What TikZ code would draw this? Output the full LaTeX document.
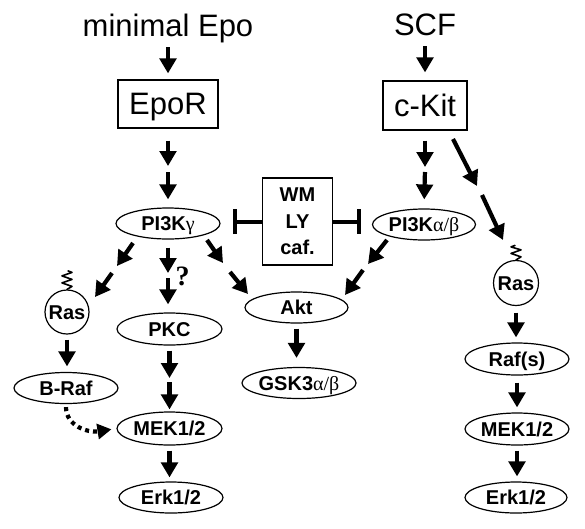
\documentclass[tikz,border=0pt]{standalone}
\usepackage{fontspec}
\setmainfont{Liberation Sans}
\newfontfamily\grk{Liberation Serif}
\usetikzlibrary{arrows.meta,shapes.geometric}
\begin{document}
\begin{tikzpicture}[x=1pt,y=-1pt,
  arr/.style={line width=4.2pt,-{Triangle[width=16.5pt,length=15pt]}},
  inhib/.style={line width=4pt,-{Bar[width=25pt]}},
  dotarr/.style={line width=4.2pt,dash pattern=on 4pt off 4pt,-{Triangle[width=15pt,length=14pt]}},
  big/.style={font=\fontsize{31}{34}\selectfont,inner sep=0pt},
  lbl/.style={font=\bfseries\fontsize{20}{22}\selectfont},
  oval/.style={ellipse,draw,line width=1.2pt,inner sep=0pt,minimum width=104pt,minimum height=31pt,text height=14pt,text depth=0pt,lbl},
  rbox/.style={rectangle,draw,line width=1.2pt,inner sep=0pt,text depth=0pt},
  rascirc/.style={circle,draw,line width=1.2pt,inner sep=0pt,minimum size=44pt,text height=14pt,text depth=0pt,lbl},
  spring/.style={line width=1.6pt,line join=round,line cap=round}
]
\useasboundingbox (0,0) rectangle (585,528);

% titles and receptors
\node[big,anchor=base] (tepo) at (168,36.5) {minimal Epo};
\node[big,anchor=base] (tscf) at (425,35.5) {SCF};
\node[rbox,big,minimum width=100pt,minimum height=48pt] (epor) at (168,104) {EpoR};
\node[rbox,big,minimum width=84pt,minimum height=49pt] (ckit) at (425,105.5) {c-Kit};

% signalling nodes
\node[oval] (pig) at (168,223.5) {PI3K{\mdseries\grk γ}};
\node[oval,minimum width=103pt] (piab) at (424,224.5) {PI3K{\mdseries\grk α/β}};
\node[rbox,lbl,minimum width=70pt,minimum height=87pt,align=center,font=\bfseries\fontsize{20}{26.5}\selectfont] (inh) at (297.5,221.5) {WM\\LY\\caf.};
\node[oval,minimum width=103pt] (akt) at (296.5,307.5) {Akt};
\node[oval,minimum width=105pt,minimum height=32pt] (pkc) at (169.5,329) {PKC};
\node[oval,minimum width=114pt] (gsk) at (299,383) {GSK3{\mdseries\grk α/β}};
\node[rascirc] (rasL) at (67,312) {Ras};
\node[oval] (braf) at (66,388) {B-Raf};
\node[oval,minimum width=105pt,minimum height=33pt] (mekL) at (169.5,428.5) {MEK1/2};
\node[oval] (erkL) at (171,497.5) {Erk1/2};
\node[rascirc,minimum size=45pt] (rasR) at (516,283) {Ras};
\node[oval,minimum height=32pt] (raf) at (517,359) {Raf(s)};
\node[oval,minimum height=32pt] (mekR) at (517,429) {MEK1/2};
\node[oval,minimum width=102pt] (erkR) at (516,497.5) {Erk1/2};

% lipid anchors (springs) on Ras
\draw[spring] (rasL.north) -- ++(5,-3) -- ++(-10,-3.5) -- ++(10,-3.5) -- ++(-10,-3.5) -- ++(10,-3.5) -- ++(-4,-1.5);
\draw[spring] (rasR.north) -- ++(5,-3) -- ++(-10,-3.5) -- ++(10,-3.5) -- ++(-10,-3) -- ++(4,-1.5);

% question mark
\node[font=\grk\bfseries\fontsize{28}{30}\selectfont,inner sep=0pt] (qm) at (182.5,276) {?};

% gap points of broken arrows
\coordinate (g1) at (168,169);
\coordinate (g2) at (425,169.5);
\coordinate (g3) at (168,275.5);
\coordinate (g4) at (169.5,380);
\coordinate (k1) at (453,139);
\coordinate (k2) at (477,186);
\coordinate (k3) at (482,195);
\coordinate (k4) at (503,240);
\coordinate (l1) at (133,243);
\coordinate (l2) at (117,266);
\coordinate (l3) at (112,273);
\coordinate (l4) at (95,297);
\coordinate (r1) at (207,240);
\coordinate (r2) at (223,263);
\coordinate (r3) at (230,272);
\coordinate (r4) at (248,294);
\coordinate (p1) at (387,240);
\coordinate (p2) at (368,264);
\coordinate (p3) at (363,270);
\coordinate (p4) at (345,295);

% arrows
\draw[arr,shorten <=4pt,shorten >=6pt] (tepo.south) -- (epor.north);
\draw[arr,shorten <=10pt,shorten >=8pt] (tscf.south) -- (ckit.north);
\draw[arr,shorten <=12pt,shorten >=3pt] (epor.south) -- (g1);
\draw[arr,shorten <=3pt,shorten >=8pt] (g1) -- (pig.north);
\draw[arr,shorten <=10pt,shorten >=2.5pt] (ckit.south) -- (g2);
\draw[arr,shorten <=2.5pt,shorten >=9pt] (g2) -- (piab.north);
\draw[arr] (k1) -- (k2);
\draw[arr] (k3) -- (k4);
\draw[arr] (l1) -- (l2);
\draw[arr] (l3) -- (l4);
\draw[arr,shorten <=8pt,shorten >=2.5pt] (pig.south) -- (g3);
\draw[arr,shorten <=2.5pt,shorten >=8pt] (g3) -- (g3 |- pkc.north);
\draw[arr] (r1) -- (r2);
\draw[arr] (r3) -- (r4);
\draw[arr] (p1) -- (p2);
\draw[arr] (p3) -- (p4);
\draw[arr,shorten <=5pt,shorten >=9pt] (akt.south) -- (akt.south |- gsk.north);
\draw[arr,shorten <=5pt,shorten >=5.5pt] (rasL.south) -- (rasL.south |- braf.north);
\draw[arr,shorten <=5pt,shorten >=2pt] (pkc.south) -- (g4);
\draw[arr,shorten <=2pt,shorten >=2pt] (g4) -- (mekL.north);
\draw[arr,shorten <=5pt,shorten >=4pt] (mekL.south) -- (mekL.south |- erkL.north);
\draw[arr,shorten <=6.5pt,shorten >=5pt] (rasR.south) -- (rasR.south |- raf.north);
\draw[arr,shorten <=7pt,shorten >=5pt] (raf.south) -- (mekR.north);
\draw[arr,shorten <=5pt,shorten >=5pt] (mekR.south) -- (mekR.south |- erkR.north);
\draw[dotarr,shorten <=3pt,shorten >=5pt] (braf.south) .. controls (66,426) and (88,433) .. (mekL.west);

% inhibitions
\draw[inhib,shorten >=12pt] (inh.west) -- (inh.west -| pig.east);
\draw[inhib,shorten >=11pt] (inh.east) -- (inh.east -| piab.west);
\end{tikzpicture}
\end{document}
